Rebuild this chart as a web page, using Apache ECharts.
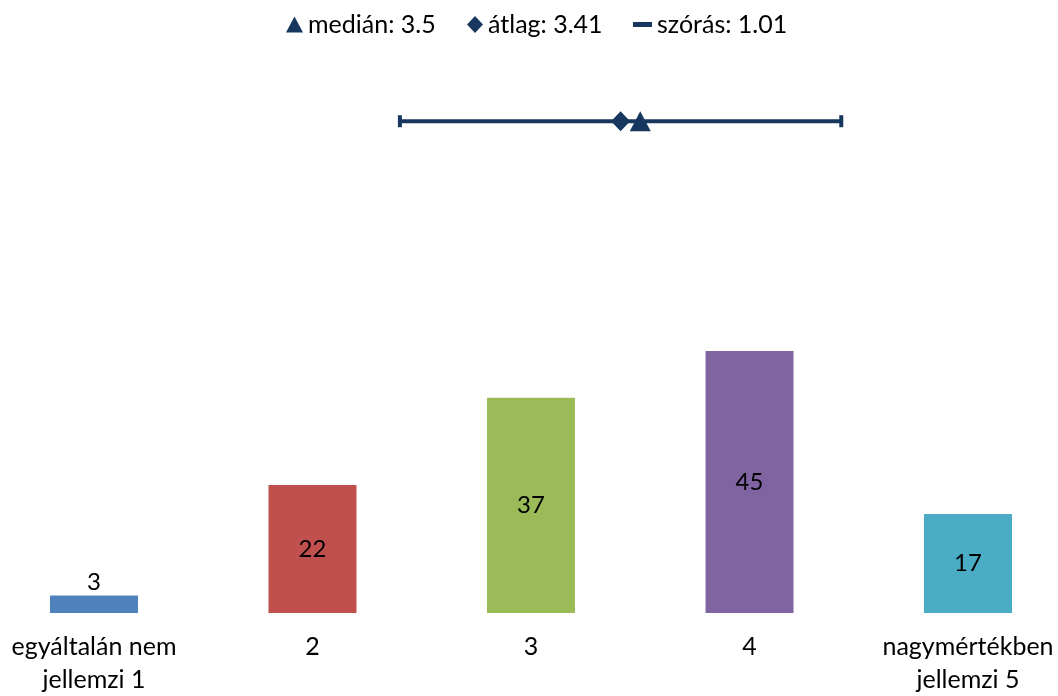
<!DOCTYPE html>
<html><head><meta charset="utf-8">
<script src="https://cdn.jsdelivr.net/npm/echarts@6/dist/echarts.min.js"></script>
<style>html,body{margin:0;padding:0;background:#fff}#c{width:1058px;height:696px}</style>
</head><body><div id="c"></div>
<script>
const categories = ['egyáltalán nem\njellemzi 1', '2', '3', '4', 'nagymértékben\njellemzi 5'];
const positions = [1, 2, 3, 4, 5];
const counts = [3, 22, 37, 45, 17];
const barColors = ['#4F81BD', '#C0504D', '#9BBB59', '#8064A2', '#4BACC6'];
const median = 3.5;
const mean = 3.41;
const sd = 1.01;

const FONT = 'Lato';
const NAVY = '#17375E';
const ROW = 0.845;

const chart = echarts.init(document.getElementById('c'), null, {renderer: 'canvas'});
const nMed = 'medián: ' + median;
const nMean = 'átlag: ' + mean;
const nSd = 'szórás: ' + sd;
const legendText = {fontFamily: FONT, fontSize: 25, color: '#000'};
chart.setOption({
  animation: false,
  grid: {left: 0, right: 0, top: 31, height: 582},
  legend: [
    {data: [{name: nMed, icon: 'triangle'}], left: 286, top: 12, padding: 0, itemWidth: 17, itemHeight: 16, textStyle: legendText, selectedMode: false},
    {data: [{name: nMean, icon: 'diamond'}], left: 467, top: 12, padding: 0, itemWidth: 16, itemHeight: 17, textStyle: legendText, selectedMode: false},
    {data: [{name: nSd, icon: 'rect'}], left: 633, top: 12, padding: 0, itemWidth: 19, itemHeight: 5, textStyle: legendText, selectedMode: false}
  ],
  xAxis: [
    {type: 'value', min: 0.5698, max: 5.4119, axisLine: {show: false}, axisTick: {show: false}, splitLine: {show: false},
     axisLabel: {customValues: positions, formatter: v => categories[Math.round(v) - 1],
       fontFamily: FONT, fontSize: 25, color: '#000', lineHeight: 33, margin: 17}}
  ],
  yAxis: [
    {type: 'value', min: 0, max: 100, show: false},
    {type: 'value', min: 0, max: 1, show: false}
  ],
  series: [
    {type: 'bar', yAxisIndex: 0, barWidth: 88,
     data: counts.map((v, i) => ({value: [positions[i], v], itemStyle: {color: barColors[i]},
       label: {show: true, position: i === 0 ? 'top' : 'inside', distance: 1}})),
     label: {fontFamily: FONT, fontSize: 24, color: '#000', formatter: p => p.value[1]}},
    {name: nSd, type: 'line', yAxisIndex: 1,
     data: [[mean - sd, ROW], [mean + sd, ROW]],
     lineStyle: {color: NAVY, width: 4}, itemStyle: {color: NAVY},
     symbol: 'rect', symbolSize: [4, 12], showSymbol: true},
    {name: nMean, type: 'scatter', yAxisIndex: 1,
     data: [[mean, ROW]], symbol: 'diamond', symbolSize: [19, 20], itemStyle: {color: NAVY, opacity: 1}},
    {name: nMed, type: 'scatter', yAxisIndex: 1,
     data: [[median, ROW]], symbol: 'triangle', symbolSize: [21, 20], itemStyle: {color: NAVY, opacity: 1}}
  ]
});
</script></body></html>
